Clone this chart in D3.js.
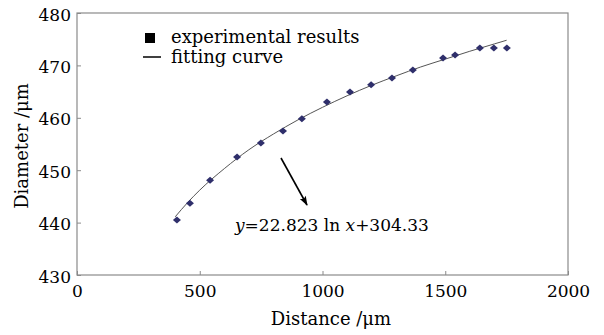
<!DOCTYPE html>
<html><head><meta charset="utf-8">
<script src="https://cdn.jsdelivr.net/npm/d3@7"></script>
<style>
html,body{margin:0;padding:0;background:#fff;}
svg{display:block;}
text{font-family:"DejaVu Serif",serif;fill:#000;}
</style></head>
<body>
<svg id="chart" width="604" height="335"></svg>
<script>
// experimental results (distance µm, diameter µm)
const distance = [407, 460, 542, 652, 749, 839, 916, 1018, 1112, 1198, 1283, 1368, 1491, 1540, 1641, 1698, 1751];
const diameter = [440.5, 443.7, 448.1, 452.5, 455.2, 457.5, 459.8, 463.0, 464.9, 466.3, 467.6, 469.1, 471.4, 472.0, 473.3, 473.3, 473.3];
// fitting curve
const fitX = [400, 450, 500, 600, 700, 800, 900, 1000, 1100, 1200, 1300, 1400, 1500, 1600, 1700, 1750];
const fitY = [441.1, 443.8, 446.2, 450.3, 453.9, 456.9, 459.6, 462.0, 464.2, 466.2, 468.0, 469.7, 471.2, 472.7, 474.1, 474.8];
const xTicks = [0, 500, 1000, 1500, 2000];
const yTicks = [430, 440, 450, 460, 470, 480];
const legendLabels = ["experimental results", "fitting curve"];

const svg = d3.select("#chart");
const L = 77, R = 568, T = 13, B = 275;
const x = d3.scaleLinear().domain([0, 2000]).range([L, R]);
const y = d3.scaleLinear().domain([430, 480]).range([B, T]);

const axisColor = "#8a8a8a";

// frame
svg.append("rect").attr("x", L).attr("y", T).attr("width", R - L).attr("height", B - T)
  .attr("fill", "none").attr("stroke", axisColor).attr("stroke-width", 1.2);

// x axis
const xa = svg.append("g").attr("transform", `translate(0,${B})`)
  .call(d3.axisBottom(x).tickValues(xTicks).tickSize(-4).tickPadding(10).tickFormat(d3.format("d")));
xa.select(".domain").remove();
xa.selectAll(".tick line").attr("stroke", axisColor);
xa.selectAll(".tick text").attr("font-size", 17).attr("font-family", "DejaVu Serif").attr("fill", "#000");

// y axis
const ya = svg.append("g").attr("transform", `translate(${L},0)`)
  .call(d3.axisLeft(y).tickValues(yTicks).tickSize(-4).tickPadding(6).tickFormat(d3.format("d")));
ya.select(".domain").remove();
ya.selectAll(".tick line").attr("stroke", axisColor);
ya.selectAll(".tick text").attr("font-size", 17).attr("font-family", "DejaVu Serif").attr("fill", "#000").attr("dy", "0.42em");

// axis titles
svg.append("text").attr("x", 331).attr("y", 325).attr("text-anchor", "middle")
  .attr("font-size", 18).text("Distance /μm");
svg.append("text").attr("transform", "translate(28,146) rotate(-90)").attr("text-anchor", "middle")
  .attr("font-size", 18).text("Diameter /μm");

// fitting curve
const fitData = fitX.map((d, i) => [d, fitY[i]]);
svg.append("path").datum(fitData)
  .attr("d", d3.line().x(d => x(d[0])).y(d => y(d[1])).curve(d3.curveMonotoneX))
  .attr("fill", "none").attr("stroke", "#555").attr("stroke-width", 1);

// points (diamonds)
const pts = distance.map((d, i) => [d, diameter[i]]);
svg.append("g").selectAll("path").data(pts).join("path")
  .attr("d", d => {
    const cx = x(d[0]), cy = y(d[1]);
    return `M${cx - 4},${cy} L${cx},${cy - 3.5} L${cx + 4},${cy} L${cx},${cy + 3.5} Z`;
  })
  .attr("fill", "#2f2f6b");

// legend
svg.append("rect").attr("x", 145).attr("y", 33).attr("width", 10).attr("height", 10).attr("fill", "#000");
svg.append("text").attr("x", 171).attr("y", 43).attr("font-size", 18).text(legendLabels[0]);
svg.append("line").attr("x1", 143).attr("x2", 161).attr("y1", 57).attr("y2", 57)
  .attr("stroke", "#000").attr("stroke-width", 1.5);
svg.append("text").attr("x", 171).attr("y", 63).attr("font-size", 18).text(legendLabels[1]);

// annotation arrow
const defs = svg.append("defs");
defs.append("marker").attr("id", "arr").attr("viewBox", "0 0 10 10").attr("refX", 9).attr("refY", 5)
  .attr("markerWidth", 8).attr("markerHeight", 6).attr("orient", "auto")
  .append("path").attr("d", "M0,1.5 L10,5 L0,8.5 L2,5 Z").attr("fill", "#000");
svg.append("line").attr("x1", 281).attr("y1", 158).attr("x2", 307).attr("y2", 205)
  .attr("stroke", "#000").attr("stroke-width", 1.6).attr("marker-end", "url(#arr)");

// equation
const eq = svg.append("text").attr("x", 235).attr("y", 231).attr("font-size", 17);
eq.append("tspan").attr("font-style", "italic").text("y");
eq.append("tspan").text("=22.823 ln ");
eq.append("tspan").attr("font-style", "italic").text("x");
eq.append("tspan").text("+304.33");
</script>
</body></html>
